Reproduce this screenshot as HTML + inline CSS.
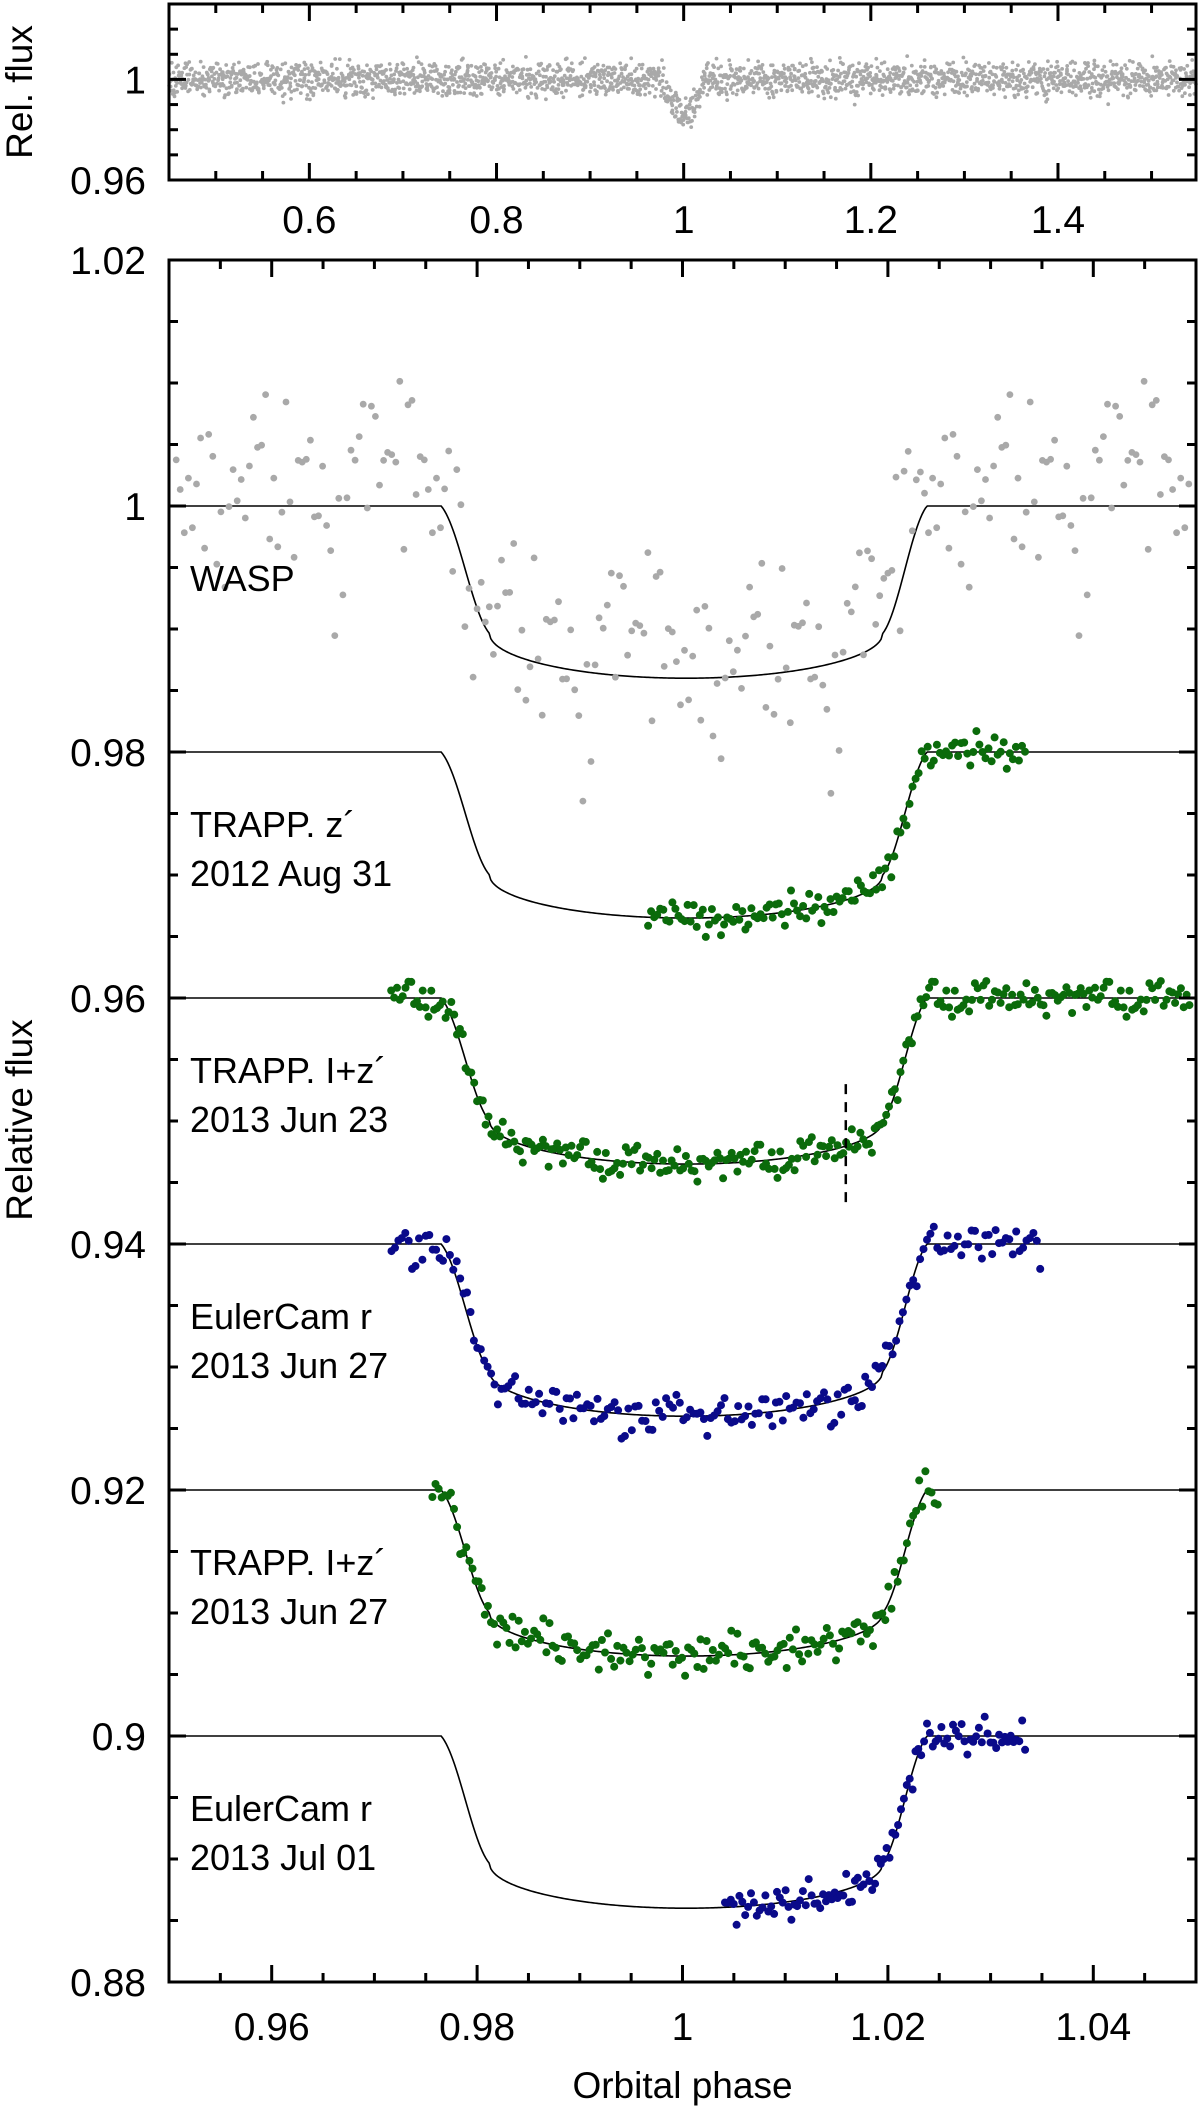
<!DOCTYPE html>
<html><head><meta charset="utf-8"><style>
html,body{margin:0;padding:0;background:#fff}
svg{display:block}
text{font-family:"Liberation Sans",sans-serif;fill:#000}
</style></head><body>
<svg id="chart" width="1200" height="2107" viewBox="0 0 1200 2107" xmlns="http://www.w3.org/2000/svg">
<g id="topPanel"></g>
<g id="mainPanel"></g>
</svg>
<script>
// ---- data ----
const resid = [0.4,-1.2,0.9,0.1,-0.5,1.6,-0.3,0.7,-1.8,0.2,1.1,-0.6,-0.1,0.8,-1.4,0.5,2.1,-0.9,0.3,-0.2,1.3,-1.1,0.6,-0.4,0.0,1.7,-2.0,0.9,-0.7,0.2,-1.3,1.0,0.4,-0.8,1.5,-0.2,-1.6,0.7,0.3,-0.5,1.2,-1.0,0.1,2.4,-0.6,0.8,-1.5,0.5,-0.3,1.1,-0.9,0.2,1.9,-1.2,0.6,-0.1,-2.3,1.4,0.0,-0.7,0.9];
const setNames = ["wasp","trapp-z-2012-aug-31","trapp-iz-2013-jun-23","eulercam-r-2013-jun-27","trapp-iz-2013-jun-27","eulercam-r-2013-jul-01"];
const setLabel1 = ["WASP","TRAPP. z\u00B4","TRAPP. I+z\u00B4","EulerCam r","TRAPP. I+z\u00B4","EulerCam r"];
const setLabel2 = ["","2012 Aug 31","2013 Jun 23","2013 Jun 27","2013 Jun 27","2013 Jul 01"];
const setBase = [1.0,0.98,0.96,0.94,0.92,0.90];
const setDepth = [0.0140,0.0135,0.0135,0.0140,0.0135,0.0140];
const setStart = [0.9505,0.9965,0.9715,0.9715,0.9755,1.0040];
const setEnd = [1.0495,1.0335,1.0495,1.0350,1.0250,1.0335];
const setCount = [250,125,280,190,165,105];
const setSigma = [0.0045,0.0007,0.0007,0.0009,0.0008,0.0007];
const contacts = [0.9765,0.9812,1.0195,1.0238];
const topXTicks = [0.6,0.8,1,1.2,1.4];
const topYTicks = [0.96,1];
const mainXTicks = [0.96,0.98,1,1.02,1.04];
const mainYTicks = [0.88,0.9,0.92,0.94,0.96,0.98,1,1.02];
const topCount = 2300, topSigma = 0.0036, topDepth = 0.014;
const dashPhase = 1.0159, dashY = [0.9530,0.9430];

// ---- styles / geometry ----
const colors = ["#a9a9a9","#0b6b0b","#0b6b0b","#0a0a8a","#0b6b0b","#0a0a8a"];
const L=169, R=1196;
const tx = v => L + (v-0.45)/(1.5475-0.45)*(R-L);
const ty = v => 4 + (1.03-v)/0.07*176;
const mx = v => L + (v-0.95)/0.1*(R-L);
const my = v => 260 + (1.02-v)/0.14*1722;
const NS="http://www.w3.org/2000/svg";
function mk(tag, parent, attrs){const e=document.createElementNS(NS,tag);for(const k in attrs)e.setAttribute(k,attrs[k]);parent.appendChild(e);return e;}

function model(p, base, depth){
  const t1=contacts[0],t2=contacts[1],t3=contacts[2],t4=contacts[3], c=0.26, dc=depth*(1-c);
  if(p<=t1||p>=t4) return base;
  if(p<t2||p>t3){
    const s = p<t2 ? (p-t1)/(t2-t1) : (t4-p)/(t4-t3);
    const f = 0.45*s + 0.55*(1-Math.cos(Math.PI*s))/2;
    return base - dc*f;
  }
  const mid=(t2+t3)/2, half=(t3-t2)/2, u=(p-mid)/half;
  return base - depth*(1 - c*(1-Math.sqrt(Math.max(0,1-u*u))));
}

// ---- top panel ----
const topG=document.getElementById('topPanel');
const tdots=mk('g',topG,{});


for(let i=0;i<topCount;i++){
  const n=resid.length;
  const p=0.45+(i+0.5+0.8*resid[(i*i)%n])/topCount*1.0975;
  const r=resid[(i*i*3+i)%n]*0.75+resid[(i*17+Math.floor(i/61))%n]*0.45+resid[Math.floor(i/7)%n]*0.25;
  const dip = (p>0.978&&p<1.022)? topDepth*(1-Math.pow((p-1)/0.022,2)) : 0;
  const v=1-dip+r*topSigma;
  if(v<0.96||v>1.03) continue;
  const c=mk('circle',tdots,{cx:tx(p).toFixed(1),cy:ty(v).toFixed(1),r:1.9,fill:"#a9a9a9"});
  
  
}
const tf=mk('rect',topG,{x:L,y:4,width:R-L,height:176,fill:"none",stroke:"#000","stroke-width":3});


for(let k=1;k<=21;k++){
  const v=0.45+k*0.05, x=tx(v), maj=(k%4===3);
  const len=maj?17:9;
  mk('line',topG,{x1:x,y1:180,x2:x,y2:180-len,stroke:"#000","stroke-width":3});
  mk('line',topG,{x1:x,y1:4,x2:x,y2:4+len,stroke:"#000","stroke-width":3});
}
for(let k=0;k<7;k++){
  const v=0.96+k*0.01, y=ty(v), len=(k%4===0)?17:9;
  mk('line',topG,{x1:L,y1:y,x2:L+len,y2:y,stroke:"#000","stroke-width":3});
  mk('line',topG,{x1:R,y1:y,x2:R-len,y2:y,stroke:"#000","stroke-width":3});
}
topXTicks.forEach(v=>{const t=mk('text',topG,{x:tx(v),y:233,"font-size":39,"text-anchor":"middle"});t.textContent=String(v);
});
topYTicks.forEach(v=>{const t=mk('text',topG,{x:146,y:ty(v)+14,"font-size":39,"text-anchor":"end"});t.textContent=String(v);
});
const tyt=mk('text',topG,{x:32,y:92,"font-size":37,"text-anchor":"middle",transform:"rotate(-90 32 92)"});tyt.textContent="Rel. flux";


// ---- main panel ----
const mainG=document.getElementById('mainPanel');
setNames.forEach((nm,si)=>{
  const g=mk('g',mainG,{});
  
  
  let d="";
  for(let k=0;k<=600;k++){const p=0.95+k/6000;d+=(k?"L":"M")+mx(p).toFixed(2)+","+my(model(p,setBase[si],setDepth[si])).toFixed(2);}
  const ml=mk('path',g,{d:d,fill:"none",stroke:"#000","stroke-width":1.6});
  
  
  const n=setCount[si], m=resid.length;
  for(let i=0;i<n;i++){
    const p=setStart[si]+(i+0.5)/n*(setEnd[si]-setStart[si]);
    const r=resid[(i*(si+3)+si*11)%m]*0.85+resid[(i*i+i*5+si)%m]*0.4;
    const v=model(p,setBase[si],setDepth[si])+r*setSigma[si]+(si===0?0.0015:0);
    const c=mk('circle',g,{cx:mx(p).toFixed(1),cy:my(v).toFixed(1),r:si===0?3.4:4,fill:colors[si]});
    
    
  }
  const y0=my(setBase[si])+85;
  const t1=mk('text',mainG,{x:190,y:y0,"font-size":36});t1.textContent=setLabel1[si];
  
  if(setLabel2[si]){const t2=mk('text',mainG,{x:190,y:y0+49,"font-size":36});t2.textContent=setLabel2[si];
  }
});
const dl=mk('line',mainG,{x1:mx(dashPhase),y1:my(dashY[0]),x2:mx(dashPhase),y2:my(dashY[1]),stroke:"#000","stroke-width":2.5,"stroke-dasharray":"10,8"});


const mf=mk('rect',mainG,{x:L,y:260,width:R-L,height:1722,fill:"none",stroke:"#000","stroke-width":3});


for(let k=0;k<=20;k++){
  const v=0.95+k*0.005, x=mx(v), len=(k%4===2)?17:9;
  mk('line',mainG,{x1:x,y1:1982,x2:x,y2:1982-len,stroke:"#000","stroke-width":3});
  mk('line',mainG,{x1:x,y1:260,x2:x,y2:260+len,stroke:"#000","stroke-width":3});
}
for(let k=0;k<=28;k++){
  const v=0.88+k*0.005, y=my(v), len=(k%4===0)?17:9;
  mk('line',mainG,{x1:L,y1:y,x2:L+len,y2:y,stroke:"#000","stroke-width":3});
  mk('line',mainG,{x1:R,y1:y,x2:R-len,y2:y,stroke:"#000","stroke-width":3});
}
mainXTicks.forEach(v=>{const t=mk('text',mainG,{x:mx(v),y:2040,"font-size":39,"text-anchor":"middle"});t.textContent=String(v);
});
mainYTicks.forEach(v=>{const t=mk('text',mainG,{x:146,y:my(v)+14,"font-size":39,"text-anchor":"end"});t.textContent=String(v);
});
const xt=mk('text',mainG,{x:(L+R)/2,y:2098,"font-size":37,"text-anchor":"middle"});xt.textContent="Orbital phase";

const yt=mk('text',mainG,{x:32,y:1120,"font-size":37,"text-anchor":"middle",transform:"rotate(-90 32 1120)"});yt.textContent="Relative flux";

</script>
</body></html>
